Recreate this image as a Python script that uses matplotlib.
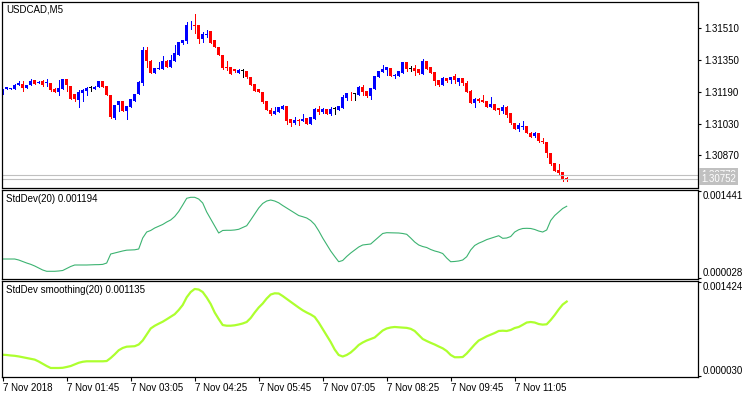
import numpy as np
import matplotlib
matplotlib.use('Agg')
import matplotlib.pyplot as plt
import matplotlib.transforms as mtransforms

plt.rcParams['font.family'] = ['Liberation Sans', 'DejaVu Sans']
plt.rcParams['font.size'] = 7

# USDCAD M5 bars, 7 Nov 2018 from 00:25
opens = [1.31185, 1.31203, 1.31203, 1.31206, 1.31223, 1.31229, 1.31209, 1.31223, 1.31249, 1.31233,
         1.31243, 1.31236, 1.31233, 1.31206, 1.31189, 1.31206, 1.31253, 1.31219, 1.31179, 1.31149,
         1.31185, 1.31196, 1.31209, 1.31206, 1.31213, 1.31243, 1.31219, 1.31175, 1.31058, 1.31122,
         1.31142, 1.31095, 1.31115, 1.31145, 1.31179, 1.31236, 1.31401, 1.31347, 1.31286, 1.31306,
         1.31306, 1.31347, 1.31316, 1.31347, 1.31377, 1.31434, 1.31444, 1.31525, 1.31528, 1.31525,
         1.31458, 1.31478, 1.31495, 1.31451, 1.31417, 1.31374, 1.31315, 1.31313, 1.31306, 1.31286,
         1.31296, 1.31296, 1.31263, 1.31229, 1.31203, 1.31189, 1.31145, 1.31098, 1.31078, 1.31088,
         1.31105, 1.31118, 1.31051, 1.31034, 1.31048, 1.31044, 1.31058, 1.31028, 1.31054, 1.31105,
         1.31088, 1.31102, 1.31078, 1.31105, 1.31098, 1.31108, 1.31159, 1.31180, 1.31179, 1.31175,
         1.31216, 1.31192, 1.31169, 1.31206, 1.31266, 1.31290, 1.31300, 1.31310, 1.31271, 1.31270,
         1.31286, 1.31340, 1.31306, 1.31310, 1.31303, 1.31280, 1.31344, 1.31313, 1.31290, 1.31249,
         1.31223, 1.31260, 1.31249, 1.31270, 1.31239, 1.31260, 1.31233, 1.31196, 1.31135, 1.31152,
         1.31149, 1.31145, 1.31115, 1.31128, 1.31108, 1.31092, 1.31115, 1.31082, 1.31034, 1.31004,
         1.31011, 1.31018, 1.30984, 1.30967, 1.30981, 1.30942, 1.30937, 1.30883, 1.30830, 1.30796,
         1.30786, 1.30755]
highs = [1.31206, 1.31214, 1.31210, 1.31229, 1.31243, 1.31246, 1.31224, 1.31256, 1.31250, 1.31242,
         1.31249, 1.31253, 1.31234, 1.31207, 1.31249, 1.31254, 1.31255, 1.31220, 1.31180, 1.31199,
         1.31202, 1.31212, 1.31219, 1.31217, 1.31246, 1.31244, 1.31220, 1.31176, 1.31123, 1.31143,
         1.31143, 1.31119, 1.31153, 1.31180, 1.31246, 1.31414, 1.31414, 1.31348, 1.31311, 1.31340,
         1.31370, 1.31348, 1.31377, 1.31424, 1.31442, 1.31452, 1.31542, 1.31545, 1.31582, 1.31526,
         1.31491, 1.31501, 1.31496, 1.31452, 1.31418, 1.31375, 1.31344, 1.31314, 1.31307, 1.31303,
         1.31303, 1.31297, 1.31264, 1.31230, 1.31204, 1.31190, 1.31146, 1.31108, 1.31112, 1.31113,
         1.31125, 1.31119, 1.31052, 1.31064, 1.31054, 1.31078, 1.31059, 1.31065, 1.31106, 1.31118,
         1.31108, 1.31103, 1.31112, 1.31112, 1.31119, 1.31174, 1.31183, 1.31189, 1.31185, 1.31217,
         1.31226, 1.31193, 1.31210, 1.31271, 1.31297, 1.31324, 1.31314, 1.31311, 1.31280, 1.31294,
         1.31341, 1.31341, 1.31320, 1.31324, 1.31304, 1.31357, 1.31345, 1.31314, 1.31291, 1.31250,
         1.31263, 1.31261, 1.31267, 1.31280, 1.31261, 1.31261, 1.31243, 1.31197, 1.31160, 1.31159,
         1.31175, 1.31146, 1.31162, 1.31129, 1.31109, 1.31125, 1.31118, 1.31083, 1.31035, 1.31034,
         1.31044, 1.31019, 1.30985, 1.30987, 1.30982, 1.30957, 1.30938, 1.30884, 1.30831, 1.30826,
         1.30787, 1.30762]
lows = [1.31181, 1.31202, 1.31202, 1.31204, 1.31222, 1.31196, 1.31208, 1.31222, 1.31227, 1.31232,
        1.31219, 1.31219, 1.31196, 1.31188, 1.31175, 1.31205, 1.31196, 1.31154, 1.31145, 1.31112,
        1.31145, 1.31175, 1.31196, 1.31205, 1.31212, 1.31212, 1.31174, 1.31059, 1.31054, 1.31095,
        1.31094, 1.31054, 1.31114, 1.31144, 1.31178, 1.31226, 1.31316, 1.31283, 1.31285, 1.31305,
        1.31305, 1.31315, 1.31315, 1.31346, 1.31376, 1.31433, 1.31438, 1.31508, 1.31485, 1.31434,
        1.31441, 1.31468, 1.31436, 1.31416, 1.31373, 1.31306, 1.31300, 1.31279, 1.31292, 1.31285,
        1.31263, 1.31262, 1.31225, 1.31192, 1.31188, 1.31135, 1.31097, 1.31072, 1.31077, 1.31087,
        1.31104, 1.31028, 1.31018, 1.31028, 1.31024, 1.31043, 1.31026, 1.31027, 1.31053, 1.31078,
        1.31085, 1.31077, 1.31072, 1.31078, 1.31097, 1.31107, 1.31149, 1.31149, 1.31149, 1.31174,
        1.31175, 1.31162, 1.31152, 1.31205, 1.31265, 1.31289, 1.31273, 1.31269, 1.31260, 1.31269,
        1.31285, 1.31293, 1.31296, 1.31276, 1.31282, 1.31279, 1.31305, 1.31285, 1.31226, 1.31219,
        1.31222, 1.31239, 1.31236, 1.31233, 1.31226, 1.31223, 1.31188, 1.31131, 1.31112, 1.31139,
        1.31138, 1.31114, 1.31114, 1.31097, 1.31078, 1.31082, 1.31064, 1.31030, 1.31003, 1.30994,
        1.31001, 1.30980, 1.30963, 1.30964, 1.30939, 1.30930, 1.30863, 1.30820, 1.30789, 1.30778,
        1.30742, 1.30742]
closes = [1.31206, 1.31213, 1.31209, 1.31226, 1.31236, 1.31209, 1.31223, 1.31246, 1.31229, 1.31239,
          1.31226, 1.31239, 1.31199, 1.31189, 1.31209, 1.31253, 1.31223, 1.31155, 1.31155, 1.31189,
          1.31199, 1.31209, 1.31209, 1.31216, 1.31243, 1.31213, 1.31175, 1.31061, 1.31122, 1.31142,
          1.31095, 1.31118, 1.31152, 1.31179, 1.31239, 1.31401, 1.31344, 1.31286, 1.31310, 1.31310,
          1.31347, 1.31316, 1.31350, 1.31384, 1.31441, 1.31451, 1.31528, 1.31528, 1.31522, 1.31458,
          1.31481, 1.31481, 1.31437, 1.31417, 1.31374, 1.31310, 1.31311, 1.31280, 1.31293, 1.31300,
          1.31296, 1.31263, 1.31226, 1.31196, 1.31189, 1.31139, 1.31098, 1.31078, 1.31092, 1.31112,
          1.31118, 1.31044, 1.31031, 1.31048, 1.31045, 1.31054, 1.31028, 1.31064, 1.31105, 1.31088,
          1.31102, 1.31078, 1.31105, 1.31105, 1.31118, 1.31165, 1.31182, 1.31177, 1.31179, 1.31216,
          1.31189, 1.31169, 1.31209, 1.31270, 1.31296, 1.31306, 1.31313, 1.31270, 1.31275, 1.31293,
          1.31340, 1.31306, 1.31306, 1.31293, 1.31283, 1.31347, 1.31306, 1.31286, 1.31246, 1.31226,
          1.31260, 1.31246, 1.31266, 1.31249, 1.31260, 1.31236, 1.31189, 1.31132, 1.31155, 1.31145,
          1.31139, 1.31115, 1.31128, 1.31098, 1.31098, 1.31115, 1.31072, 1.31031, 1.31004, 1.31021,
          1.31018, 1.30981, 1.30964, 1.30981, 1.30940, 1.30938, 1.30883, 1.30826, 1.30792, 1.30779,
          1.30749, 1.30752]

std_dev = [0.000340, 0.000340, 0.000340, 0.000340, 0.000324, 0.000300, 0.000275, 0.000254, 0.000227, 0.000194,
           0.000162, 0.000141, 0.000141, 0.000141, 0.000146, 0.000154, 0.000186, 0.000219, 0.000243, 0.000243,
           0.000243, 0.000243, 0.000246, 0.000248, 0.000249, 0.000253, 0.000275, 0.000421, 0.000437, 0.000453,
           0.000470, 0.000483, 0.000486, 0.000489, 0.000502, 0.000680, 0.000777, 0.000802, 0.000842, 0.000870,
           0.000899, 0.000939, 0.000972, 0.001028, 0.001109, 0.001214, 0.001323, 0.001339, 0.001339, 0.001311,
           0.001247, 0.001101, 0.000988, 0.000874, 0.000761, 0.000802, 0.000805, 0.000805, 0.000810, 0.000821,
           0.000850, 0.000879, 0.000972, 0.001069, 0.001166, 0.001239, 0.001279, 0.001295, 0.001279, 0.001250,
           0.001206, 0.001166, 0.001125, 0.001088, 0.001044, 0.001025, 0.001004, 0.000963, 0.000899, 0.000797,
           0.000680, 0.000575, 0.000470, 0.000381, 0.000296, 0.000316, 0.000381, 0.000437, 0.000486, 0.000534,
           0.000567, 0.000575, 0.000583, 0.000640, 0.000696, 0.000753, 0.000766, 0.000764, 0.000761, 0.000761,
           0.000753, 0.000740, 0.000680, 0.000615, 0.000567, 0.000542, 0.000526, 0.000494, 0.000470, 0.000453,
           0.000429, 0.000356, 0.000296, 0.000300, 0.000308, 0.000324, 0.000377, 0.000486, 0.000559, 0.000596,
           0.000623, 0.000654, 0.000675, 0.000696, 0.000717, 0.000675, 0.000680, 0.000704, 0.000777, 0.000814,
           0.000834, 0.000837, 0.000834, 0.000818, 0.000793, 0.000777, 0.000810, 0.000963, 0.001044, 0.001101,
           0.001158, 0.001194]
std_smooth = [0.000349, 0.000345, 0.000338, 0.000333, 0.000324, 0.000312, 0.000301, 0.000289, 0.000277, 0.000249,
              0.000216, 0.000182, 0.000153, 0.000153, 0.000153, 0.000156, 0.000168, 0.000182, 0.000206, 0.000230,
              0.000245, 0.000252, 0.000252, 0.000252, 0.000252, 0.000252, 0.000256, 0.000301, 0.000355, 0.000415,
              0.000449, 0.000468, 0.000472, 0.000475, 0.000500, 0.000559, 0.000648, 0.000737, 0.000777, 0.000808,
              0.000837, 0.000873, 0.000911, 0.000948, 0.001010, 0.001084, 0.001198, 0.001276, 0.001321, 0.001313,
              0.001276, 0.001195, 0.001099, 0.000973, 0.000877, 0.000788, 0.000778, 0.000778, 0.000784, 0.000796,
              0.000811, 0.000833, 0.000892, 0.000973, 0.001047, 0.001106, 0.001180, 0.001239, 0.001257, 0.001254,
              0.001217, 0.001173, 0.001131, 0.001088, 0.001046, 0.001006, 0.000973, 0.000944, 0.000907, 0.000825,
              0.000729, 0.000633, 0.000537, 0.000426, 0.000345, 0.000323, 0.000345, 0.000382, 0.000434, 0.000493,
              0.000530, 0.000559, 0.000582, 0.000604, 0.000655, 0.000707, 0.000737, 0.000752, 0.000759, 0.000754,
              0.000750, 0.000746, 0.000732, 0.000700, 0.000641, 0.000582, 0.000552, 0.000525, 0.000500, 0.000471,
              0.000444, 0.000404, 0.000345, 0.000312, 0.000312, 0.000315, 0.000367, 0.000434, 0.000500, 0.000559,
              0.000589, 0.000621, 0.000645, 0.000670, 0.000700, 0.000704, 0.000700, 0.000715, 0.000744, 0.000759,
              0.000791, 0.000825, 0.000833, 0.000825, 0.000803, 0.000794, 0.000799, 0.000862, 0.000936, 0.001018,
              0.001091, 0.001135]

bid, ask = 1.30752, 1.30772
price_ticks = [1.31510, 1.31350, 1.31190, 1.31030, 1.30870]
std_range = (0.000028, 0.001441)
smooth_range = (0.000030, 0.001424)
time_labels = ['7 Nov 2018', '7 Nov 01:45', '7 Nov 03:05', '7 Nov 04:25', '7 Nov 05:45',
               '7 Nov 07:05', '7 Nov 08:25', '7 Nov 09:45', '7 Nov 11:05']

W, H = 750, 398
fig = plt.figure(figsize=(W / 100, H / 100), dpi=100)


def panel(y0, y1, x0=2, x1=697.7):
    return fig.add_axes([x0 / W, 1 - y1 / H, (x1 - x0) / W, (y1 - y0) / H])


ax1 = panel(2, 187.5)
ax2 = panel(189.5, 279)
ax3 = panel(281, 377)

n = len(opens)
x = np.arange(n)
o, h, l, c = map(np.array, (opens, highs, lows, closes))
colors = np.where(c > o, '#0000FF', np.where(c < o, '#FF0000', '#000000'))

for ax in (ax1, ax2, ax3):
    ax.set_xlim(-0.175, 173.75)
    for s in ax.spines.values():
        s.set_linewidth(0.9)
        s.set_color('black')
    ax.yaxis.tick_right()
    ax.tick_params(axis='y', direction='out', length=2.5, width=0.8, pad=2, labelsize=7)
    ax.tick_params(axis='x', bottom=False, labelbottom=False)

# candles
ylo, yhi = 1.307076, 1.316426
ax1.set_ylim(ylo, yhi)
ax1.vlines(x, l, h, colors=colors, linewidth=0.72, antialiased=False)
body = np.maximum(np.abs(c - o), 0.00003)
ax1.bar(x, body, bottom=np.minimum(o, c), width=0.72, color=colors, linewidth=0, antialiased=False)
ax1.axhline(ask, color='#C0C0C0', linewidth=0.8)
ax1.axhline(bid, color='#C0C0C0', linewidth=0.8)
ax1.set_yticks(price_ticks)
ax1.set_yticklabels([f'{p:.5f}' for p in price_ticks])
ax1.text(0.006, 0.985, 'USDCAD,M5', transform=ax1.transAxes, ha='left', va='top', fontsize=7)

# ask label sits behind the bid label, as in the terminal
trans = mtransforms.blended_transform_factory(ax1.transAxes, ax1.transData)
for p in (ask, bid):
    ax1.text(1.005, p, f'{p:.5f}', transform=trans, ha='left', va='center', color='white',
             fontsize=7, clip_on=False,
             bbox=dict(boxstyle='square,pad=0.18', facecolor='#C0C0C0', edgecolor='none'))

# StdDev
ax2.plot(x, std_dev, color='#3CB371', linewidth=0.8)
ax2.set_ylim(0.0000163, 0.0014653)
ax2.set_yticks(std_range)
ax2.set_yticklabels([])
ax2.text(0.006, 0.95, f'StdDev(20) {std_dev[-1]:.6f}', transform=ax2.transAxes,
         ha='left', va='top', fontsize=7)

# StdDev smoothing
ax3.plot(x, std_smooth, color='#ADFF2F', linewidth=1.6)
ax3.set_ylim(0.0000199, 0.0014388)
ax3.set_yticks(smooth_range)
ax3.set_yticklabels([])
ax3.text(0.006, 0.96, f'StdDev smoothing(20) {std_smooth[-1]:.6f}', transform=ax3.transAxes,
         ha='left', va='top', fontsize=7)

for ax, (vmin, vmax) in ((ax2, std_range), (ax3, smooth_range)):
    tr = mtransforms.blended_transform_factory(ax.transAxes, ax.transData)
    ax.text(1.007, vmax, f'{vmax:.6f}', transform=tr, ha='left', va='top', fontsize=7, clip_on=False)
    ax.text(1.007, vmin, f'{vmin:.6f}', transform=tr, ha='left', va='bottom', fontsize=7, clip_on=False)

ax3.tick_params(axis='x', bottom=True, labelbottom=True, direction='out', length=3, width=0.8, pad=1.5)
ax3.set_xticks(x[::16])
ax3.set_xticklabels(time_labels, ha='left', fontsize=7)

fig.savefig('out.png', dpi=100)
